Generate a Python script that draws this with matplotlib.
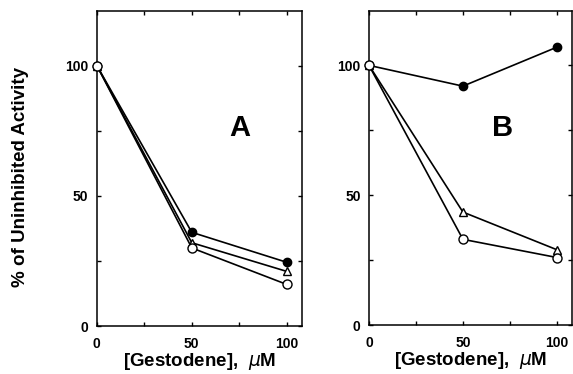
import matplotlib
matplotlib.use("Agg")
import matplotlib.pyplot as plt
from matplotlib.ticker import MultipleLocator

plt.rcParams['font.family'] = ['Liberation Sans', 'DejaVu Sans']

# Gestodene concentrations (uM)
conc = [0, 50, 100]

# Panel A
a_filled = [100, 36, 24.5]
a_triangle = [100, 32, 21]
a_open = [100, 30, 16]

# Panel B
b_filled = [100, 92, 107]
b_triangle = [100, 43.5, 29]
b_open = [100, 33, 26]

fig = plt.figure(figsize=(5.73, 3.74), dpi=100)
axA = fig.add_axes([0.169, 0.128, 0.358, 0.843])
axB = fig.add_axes([0.644, 0.131, 0.354, 0.840])


def draw(ax, filled, tri, opn, letter, lx):
    ax.plot(conc, filled, '-o', color='black', mfc='black', ms=6, lw=1.2, clip_on=False, zorder=3)
    ax.plot(conc, tri, '-^', color='black', mfc='white', ms=6, lw=1.2, clip_on=False, zorder=3)
    ax.plot(conc, opn, '-o', color='black', mfc='white', ms=6.5, lw=1.2, clip_on=False, zorder=4)
    ax.set_xlim(0, 108)
    ax.set_ylim(0, 121)
    ax.set_xticks([0, 50, 100])
    ax.set_yticks([0, 50, 100])
    ax.xaxis.set_minor_locator(MultipleLocator(25))
    ax.yaxis.set_minor_locator(MultipleLocator(25))
    ax.tick_params(which='both', direction='in', top=True, right=True, length=3, width=1)
    ax.tick_params(which='major', labelsize=10)
    ax.tick_params(axis='x', which='major', pad=8)
    ax.tick_params(axis='y', which='major', pad=6)
    for lab in ax.get_xticklabels() + ax.get_yticklabels():
        lab.set_fontweight('bold')
    for s in ax.spines.values():
        s.set_linewidth(1.1)
    ax.set_xlabel('[Gestodene],  $\\mu$M', fontsize=13.5, fontweight='bold', labelpad=0)
    ax.text(lx, 76, letter, fontsize=21, fontweight='bold', ha='center', va='center')


draw(axA, a_filled, a_triangle, a_open, 'A', 75)
draw(axB, b_filled, b_triangle, b_open, 'B', 71)

fig.text(0.035, 0.527, '% of Uninhibited Activity', rotation=90, fontsize=13.5,
         fontweight='bold', ha='center', va='center')

fig.savefig('out.png', dpi=100)
